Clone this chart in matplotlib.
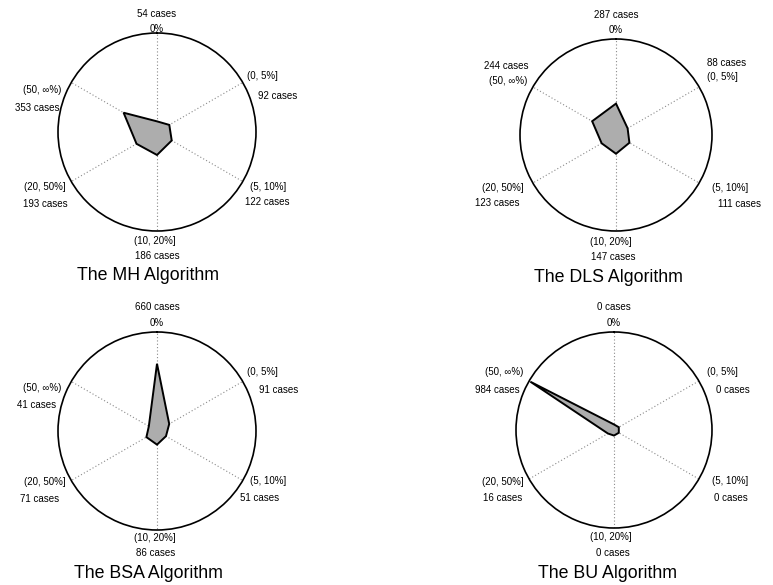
import numpy as np
import matplotlib
matplotlib.use("Agg")
import matplotlib.pyplot as plt

plt.rcParams['font.family'] = ['Liberation Sans', 'DejaVu Sans']

# Relative error bins (clockwise from the top)
categories = ['0%', '(0, 5%]', '(5, 10%]', '(10, 20%]', '(20, 50%]', '(50, \u221e%)']

# Number of cases per bin for each algorithm
mh_cases = [54, 92, 122, 186, 193, 353]
dls_cases = [287, 88, 111, 147, 123, 244]
bsa_cases = [660, 91, 51, 86, 71, 41]
bu_cases = [0, 0, 0, 0, 16, 984]

titles = ['The MH Algorithm', 'The DLS Algorithm', 'The BSA Algorithm', 'The BU Algorithm']
series = [mh_cases, dls_cases, bsa_cases, bu_cases]
r_min, r_max = -60, 1000

W, H = 773, 585
fig = plt.figure(figsize=(W / 100, H / 100), dpi=100)

# Panel layout in pixels: centre, radius, label offsets (category, count) per spoke,
# and title offset
panels = [
    dict(c=(157, 132), R=99,
         cat=[(0, -103), (105, -56), (111, 55), (-2, 109), (-112, 55), (-115, -42)],
         cnt=[(0, -118), (121, -36), (110, 70), (0, 124), (-112, 72), (-120, -24)],
         title=(-9, 144)),
    dict(c=(616, 135), R=96,
         cat=[(0, -105), (106, -58), (114, 53), (-5, 107), (-113, 53), (-108, -54)],
         cnt=[(0, -120), (111, -72), (124, 69), (-3, 122), (-119, 68), (-110, -69)],
         title=(-8, 142)),
    dict(c=(157, 431), R=99,
         cat=[(0, -108), (105, -59), (111, 50), (-2, 107), (-112, 51), (-115, -43)],
         cnt=[(0, -124), (122, -41), (103, 67), (-1, 122), (-117, 68), (-120, -26)],
         title=(-9, 143)),
    dict(c=(614, 430), R=98,
         cat=[(0, -107), (108, -58), (116, 51), (-3, 107), (-111, 52), (-110, -58)],
         cnt=[(0, -123), (119, -40), (117, 68), (-1, 123), (-111, 68), (-117, -40)],
         title=(-6, 144)),
]

angles = np.arange(len(categories)) * 2 * np.pi / len(categories)

def px(x, y):
    return x / W, 1 - y / H

for values, title, p in zip(series, titles, panels):
    cx, cy = p['c']
    R = p['R']
    ax = fig.add_axes([(cx - R) / W, 1 - (cy + R) / H, 2 * R / W, 2 * R / H],
                      projection='polar')
    ax.set_theta_zero_location('N')
    ax.set_theta_direction(-1)
    ax.set_ylim(r_min, r_max)
    ax.set_yticks([])
    ax.set_xticks(angles)
    ax.set_xticklabels([])
    ax.grid(False)
    for a in angles:
        ax.plot([a, a], [r_min, r_max], color='#8a8a8a', lw=0.8,
                linestyle=(0, (1, 2)), zorder=1)
    ax.spines['polar'].set_linewidth(1.2)
    ax.spines['polar'].set_color('black')

    th = np.append(angles, angles[0])
    rv = np.append(values, values[0])
    ax.fill(th, rv, facecolor='#adadad', edgecolor='black', lw=1.4, zorder=3,
            joinstyle='miter')

    for i, (cat, n) in enumerate(zip(categories, values)):
        dx, dy = p['cat'][i]
        fig.text(*px(cx + dx, cy + dy), cat, ha='center', va='center', fontsize=7)
        dx, dy = p['cnt'][i]
        fig.text(*px(cx + dx, cy + dy), f'{n} cases', ha='center', va='center',
                 fontsize=7)

    tx, ty = p['title']
    fig.text(*px(cx + tx, cy + ty), title, ha='center', va='center', fontsize=12.8)

fig.savefig('out.png', dpi=100)
